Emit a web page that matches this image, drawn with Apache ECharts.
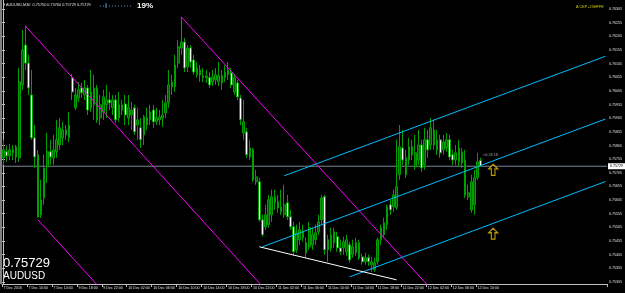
<!DOCTYPE html>
<html>
<head>
<meta charset="utf-8">
<script src="https://cdn.jsdelivr.net/npm/echarts@6/dist/echarts.min.js"></script>
<style>html,body{margin:0;padding:0;background:#000;}#c{width:625px;height:293px;}</style>
</head>
<body>
<div id="c"></div>
<script>
// ---- data (AUDUSD M30) ----
const tickLabels = ['7 Dec 2016','7 Dec 10:00','7 Dec 14:00','9 Dec 18:00','9 Dec 22:00','10 Dec 02:00','10 Dec 06:00','10 Dec 10:00','10 Dec 14:00','10 Dec 18:00','10 Dec 22:00','11 Dec 02:00','11 Dec 06:00','11 Dec 10:00','11 Dec 14:00','11 Dec 18:00','11 Dec 22:00','12 Dec 02:00','12 Dec 06:00','12 Dec 10:00'];
const priceTicks = {min: 0.75305, max: 0.76305, step: 0.0005};
const currentPrice = 0.75729;

const opens = [
0.75760,0.75782,0.75767,0.75789,0.75800,0.75760,0.76027,0.76173,0.76107,0.75990,
0.75833,0.75771,0.75551,0.75613,0.75727,0.75782,0.75760,0.75782,0.75807,0.75833,
0.75862,0.75833,0.76053,0.75943,0.75979,0.76016,0.75990,0.76016,0.75943,0.75954,
0.76016,0.75906,0.75928,0.75954,0.75972,0.75943,0.75972,0.75906,0.75935,0.75957,
0.75906,0.75917,0.75943,0.75880,0.75870,0.75844,0.75880,0.75899,0.75935,0.75892,
0.75899,0.75906,0.75924,0.75961,0.76038,0.76020,0.76107,0.76162,0.76184,0.76093,
0.76162,0.76118,0.76064,0.76082,0.76053,0.76053,0.76053,0.76038,0.76045,0.76038,
0.76060,0.76053,0.76064,0.76071,0.76001,0.76034,0.75979,0.75851,0.75855,0.75796,
0.75789,0.75672,0.75672,0.75533,0.75507,0.75515,0.75551,0.75595,0.75599,0.75562,
0.75551,0.75595,0.75544,0.75507,0.75423,0.75460,0.75467,0.75449,0.75434,0.75441,
0.75460,0.75489,0.75533,0.75617,0.75423,0.75430,0.75449,0.75471,0.75430,0.75430,
0.75416,0.75441,0.75405,0.75412,0.75449,0.75397,0.75379,0.75394,0.75368,0.75350,
0.75379,0.75460,0.75478,0.75515,0.75588,0.75580,0.75577,0.75698,0.75796,0.75760,
0.75752,0.75800,0.75727,0.75752,0.75807,0.75734,0.75826,0.75807,0.75862,0.75789,
0.75826,0.75789,0.75796,0.75826,0.75771,0.75752,0.75745,0.75741,0.75752,0.75617,
0.75569,0.75588,0.75687,0.75750];
const closes = [
0.75789,0.75767,0.75789,0.75778,0.75763,0.76038,0.76155,0.76107,0.76016,0.75833,
0.75763,0.75544,0.75606,0.75723,0.75782,0.75763,0.75789,0.75826,0.75870,0.75862,
0.75844,0.75880,0.76001,0.75990,0.76009,0.75998,0.76016,0.75935,0.76001,0.76016,
0.75899,0.75954,0.75983,0.75972,0.75961,0.75972,0.75899,0.75954,0.75954,0.75917,
0.75943,0.75935,0.75855,0.75899,0.75826,0.75910,0.75906,0.75928,0.75892,0.75906,
0.75910,0.75917,0.75961,0.76027,0.76020,0.76100,0.76166,0.76184,0.76089,0.76162,
0.76111,0.76074,0.76089,0.76064,0.76060,0.76060,0.76027,0.76056,0.76064,0.76060,
0.76034,0.76074,0.76082,0.76027,0.76053,0.75983,0.75899,0.75892,0.75771,0.75763,
0.75679,0.75690,0.75533,0.75478,0.75551,0.75606,0.75617,0.75617,0.75577,0.75580,
0.75588,0.75544,0.75507,0.75416,0.75485,0.75496,0.75489,0.75412,0.75504,0.75478,
0.75485,0.75525,0.75613,0.75423,0.75460,0.75478,0.75489,0.75430,0.75416,0.75452,
0.75460,0.75386,0.75434,0.75449,0.75394,0.75379,0.75394,0.75379,0.75379,0.75375,
0.75460,0.75504,0.75522,0.75580,0.75569,0.75624,0.75654,0.75800,0.75752,0.75698,
0.75800,0.75771,0.75778,0.75807,0.75723,0.75826,0.75789,0.75870,0.75807,0.75826,
0.75778,0.75818,0.75826,0.75763,0.75752,0.75778,0.75796,0.75782,0.75624,0.75632,
0.75672,0.75687,0.75745,0.75729];
const highs = [
0.75826,0.75804,0.75811,0.75807,0.75807,0.76089,0.76228,0.76243,0.76137,0.76082,
0.75880,0.75789,0.75679,0.75771,0.75851,0.75826,0.75844,0.75899,0.75906,0.75892,
0.75880,0.75928,0.76067,0.76016,0.76038,0.76034,0.76045,0.76027,0.76082,0.76064,
0.76027,0.75990,0.76009,0.76027,0.76001,0.75990,0.75990,0.76001,0.75972,0.75990,
0.75990,0.75965,0.75954,0.75943,0.75906,0.75917,0.75943,0.75954,0.75954,0.75943,
0.75935,0.75972,0.75990,0.76082,0.76064,0.76137,0.76192,0.76276,0.76199,0.76173,
0.76173,0.76137,0.76111,0.76100,0.76089,0.76082,0.76074,0.76082,0.76089,0.76111,
0.76082,0.76100,0.76111,0.76089,0.76067,0.76045,0.75990,0.75972,0.75870,0.75826,
0.75796,0.75716,0.75687,0.75551,0.75588,0.75624,0.75643,0.75643,0.75624,0.75643,
0.75661,0.75624,0.75569,0.75525,0.75515,0.75525,0.75515,0.75467,0.75525,0.75504,
0.75515,0.75551,0.75624,0.75624,0.75478,0.75504,0.75504,0.75489,0.75460,0.75471,
0.75478,0.75452,0.75460,0.75467,0.75460,0.75408,0.75412,0.75405,0.75397,0.75394,
0.75467,0.75515,0.75540,0.75588,0.75606,0.75643,0.75826,0.75880,0.75862,0.75789,
0.75833,0.75826,0.75844,0.75862,0.75826,0.75870,0.75862,0.75906,0.75899,0.75862,
0.75844,0.75844,0.75851,0.75844,0.75789,0.75807,0.75826,0.75796,0.75789,0.75661,
0.75698,0.75716,0.75778,0.75760];
const lows = [
0.75734,0.75745,0.75752,0.75752,0.75741,0.75745,0.76009,0.76082,0.75990,0.75826,
0.75723,0.75540,0.75540,0.75588,0.75668,0.75734,0.75734,0.75760,0.75789,0.75807,
0.75826,0.75818,0.75972,0.75935,0.75965,0.75979,0.75972,0.75917,0.75928,0.75899,
0.75888,0.75880,0.75899,0.75906,0.75935,0.75917,0.75888,0.75892,0.75917,0.75880,
0.75880,0.75862,0.75844,0.75826,0.75796,0.75807,0.75862,0.75880,0.75870,0.75880,
0.75880,0.75873,0.75906,0.75943,0.75990,0.76001,0.76089,0.76137,0.76074,0.76074,
0.76089,0.76064,0.76053,0.76038,0.76038,0.76034,0.76016,0.76023,0.76027,0.76023,
0.76009,0.76038,0.76045,0.76016,0.75990,0.75972,0.75880,0.75826,0.75760,0.75752,
0.75672,0.75661,0.75525,0.75471,0.75496,0.75504,0.75525,0.75569,0.75558,0.75551,
0.75540,0.75533,0.75496,0.75401,0.75412,0.75441,0.75452,0.75394,0.75423,0.75423,
0.75441,0.75478,0.75515,0.75405,0.75379,0.75416,0.75430,0.75416,0.75405,0.75405,
0.75401,0.75375,0.75394,0.75401,0.75386,0.75368,0.75368,0.75364,0.75342,0.75342,
0.75368,0.75441,0.75467,0.75496,0.75551,0.75562,0.75569,0.75679,0.75734,0.75687,
0.75734,0.75752,0.75716,0.75734,0.75708,0.75716,0.75760,0.75789,0.75789,0.75771,
0.75760,0.75771,0.75782,0.75752,0.75734,0.75734,0.75727,0.75723,0.75613,0.75606,
0.75558,0.75551,0.75679,0.75727];

// drawn objects: [barIndex, price] endpoints
const channel1Upper = [[7, 0.76243], [90, 0.75201]];
const channel1Lower = [[11, 0.75533], [40, 0.75169]];
const channel2Upper = [[57, 0.76276], [140, 0.75243]];
const forkMedian = [[83, 0.75434], [193, 0.75902]];
const forkUpper = [[90, 0.75694], [193, 0.76132]];
const forkLower = [[111, 0.75324], [193, 0.75673]];
const whiteLine = [[82, 0.75434], [126, 0.75313]];
const arrowPoints = [[157, 0.75716], [157, 0.75482]];

const SLOTS = 194;
// ---- build ----
const cats = Array.from({length: SLOTS}, (_, i) => String(i));
const candles = opens.map((o, i) => [o, closes[i], lows[i], highs[i]]);
const lastTickIdx = (tickLabels.length - 1) * 8;
const showTick = (idx) => idx % 8 === 0 && idx <= lastTickIdx;
const FONT = 'Liberation Sans, Arial, sans-serif';

function seg(data, color, z) {
  return {type: 'line', xAxisIndex: 1, yAxisIndex: 0, data: data, symbol: 'none',
    clip: true, silent: true, z: z || 5, animation: false,
    lineStyle: {color: color, width: 1}};
}

const chart = echarts.init(document.getElementById('c'), null, {renderer: 'canvas'});
chart.setOption({
  backgroundColor: '#000000',
  animation: false,
  grid: [
    {left: 2, right: 18, top: 0, bottom: 9, containLabel: false},
    {left: 2, right: 18, top: 9, bottom: 11, containLabel: false}
  ],
  xAxis: [
    {type: 'category', gridIndex: 0, data: cats, boundaryGap: true,
      axisLine: {show: true, lineStyle: {color: '#c0c0c0', width: 1}},
      axisTick: {show: true, interval: (i) => showTick(i), length: 3, lineStyle: {color: '#c0c0c0'}},
      axisLabel: {show: true, interval: (i) => showTick(i), hideOverlap: false,
        formatter: (v, i) => tickLabels[Math.round(Number(v) / 8)] || '',
        align: 'left', color: '#e0e0e0', fontSize: 3.6, fontFamily: FONT, margin: 2},
      splitLine: {show: false}},
    {type: 'value', gridIndex: 0, min: -0.5, max: SLOTS - 0.5, show: false},
    {type: 'value', gridIndex: 1, min: 0, max: 1, show: false}
  ],
  yAxis: [
    {type: 'value', gridIndex: 0, position: 'right',
      min: priceTicks.min - 2 * priceTicks.step / 13.65,
      max: priceTicks.max + 9 * priceTicks.step / 13.65,
      axisLine: {show: true, lineStyle: {color: '#c0c0c0', width: 1}},
      axisTick: {show: false}, axisLabel: {show: false}, splitLine: {show: false}},
    {type: 'value', gridIndex: 1, position: 'right',
      min: priceTicks.min, max: priceTicks.max, interval: priceTicks.step,
      axisLine: {show: false},
      axisTick: {show: true, length: 3, lineStyle: {color: '#c0c0c0'}},
      axisLabel: {show: true, color: '#e0e0e0', fontSize: 3.6, fontFamily: FONT, margin: 4,
        formatter: (v) => Number(v).toFixed(5)},
      splitLine: {show: false}}
  ],
  series: [
    {type: 'line', xAxisIndex: 1, yAxisIndex: 0, symbol: 'none', silent: true, z: 2,
      data: [[-0.5, currentPrice], [SLOTS - 0.5, currentPrice]],
      lineStyle: {color: '#778899', width: 1},
      endLabel: {show: true, distance: 1, formatter: () => currentPrice.toFixed(5),
        backgroundColor: '#ffffff', color: '#000000', fontSize: 3.6, fontFamily: FONT, padding: [1, 2]}},
    {type: 'candlestick', xAxisIndex: 0, yAxisIndex: 0, data: candles, barWidth: 2.2,
      z: 3,
      itemStyle: {color: '#005a00', color0: '#ffffff', borderColor: '#00a000', borderColor0: '#00a000', borderWidth: 1}},
    seg(channel1Upper, '#ff00ff'),
    seg(channel1Lower, '#ff00ff'),
    seg(channel2Upper, '#ff00ff'),
    seg(forkMedian, '#00bfff'),
    seg(forkUpper, '#00bfff'),
    seg(forkLower, '#00bfff'),
    seg(whiteLine, '#ffffff'),
    {type: 'scatter', xAxisIndex: 1, yAxisIndex: 0, data: arrowPoints, z: 6, silent: true,
      symbol: 'path://M5,0 L10,5 L7,5 L7,12 L3,12 L3,5 L0,5 Z', symbolSize: [9, 11],
      itemStyle: {color: '#000000', borderColor: '#f0c000', borderWidth: 1.2}}
  ],
  graphic: [
    {type: 'rect', left: 0, top: 0, shape: {x: 0, y: 0, width: 2, height: 284}, style: {fill: '#808080'}, silent: true},
    {type: 'text', x: 2, y: 5, style: {text: '\u25BC', fill: '#e0e0e0', font: '4px ' + FONT, verticalAlign: 'middle'}},
    {type: 'text', x: 6, y: 5, style: {text: 'AUDUSD,M30  0.75750 0.75760 0.75729 0.75729', fill: '#e0e0e0', font: '3.8px ' + FONT, verticalAlign: 'middle'}},
    {type: 'line', shape: {x1: 100, y1: 6, x2: 133, y2: 6}, style: {stroke: '#4a90d0', lineWidth: 1, lineDash: [1, 2]}},
    {type: 'line', shape: {x1: 106, y1: 3, x2: 106, y2: 8}, style: {stroke: '#4a90d0', lineWidth: 1}},
    {type: 'text', x: 137, y: 5.5, style: {text: '19%', fill: '#ffffff', font: 'bold 8px ' + FONT, verticalAlign: 'middle'}},
    {type: 'text', x: 576, y: 7, style: {text: 'A CEP+25HFFE', fill: '#d0d000', font: '3.8px ' + FONT, verticalAlign: 'middle'}},
    {type: 'text', x: 483, y: 155, style: {text: '<0:24:18', fill: '#a0a0a0', font: '3.8px ' + FONT, verticalAlign: 'middle'}},
    {type: 'text', x: 3, y: 263.5, style: {text: '0.75729', fill: '#ffffff', font: '13px ' + FONT, verticalAlign: 'middle'}},
    {type: 'text', x: 3, y: 276.5, style: {text: 'AUDUSD', fill: '#ffffff', font: '10px ' + FONT, verticalAlign: 'middle'}}
  ]
});
</script>
</body>
</html>
